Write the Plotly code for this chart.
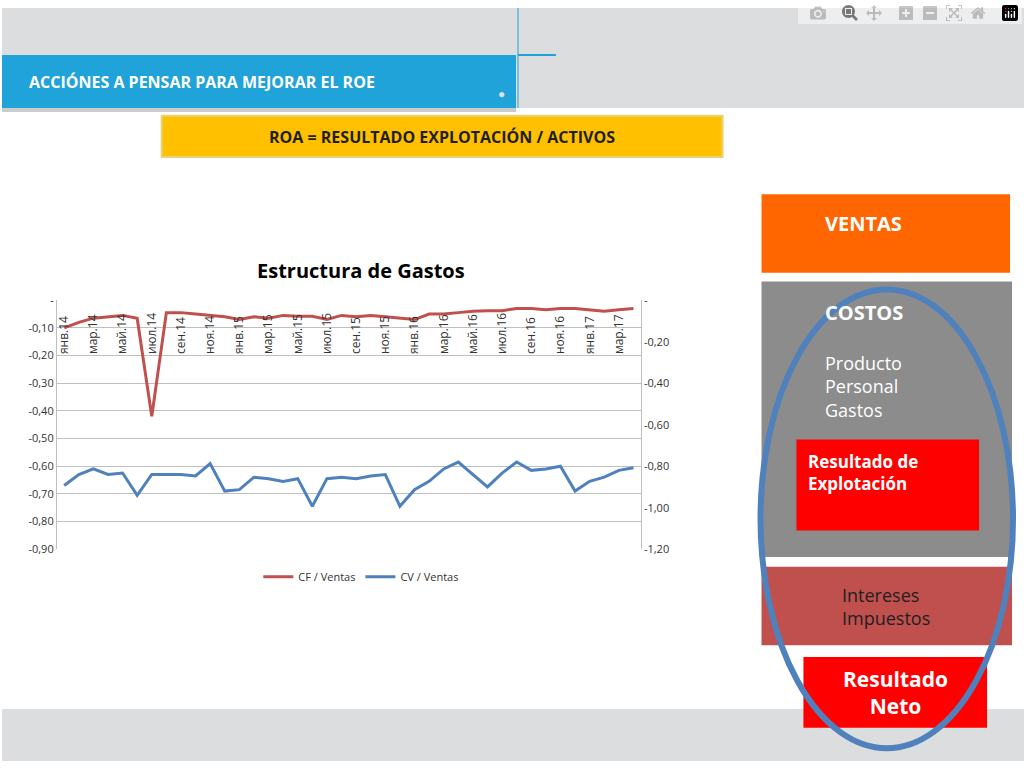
import plotly.graph_objects as go

months = ["янв","фев","мар","апр","май","июн","июл","авг","сен","окт","ноя","дек"]
categories = [f"{months[i % 12]}.{14 + i // 12}" for i in range(40)]
tick_labels = categories[::2]

cf_ventas = [-0.10,-0.08,-0.065,-0.06,-0.055,-0.065,-0.42,-0.045,-0.045,-0.05,
             -0.055,-0.06,-0.07,-0.06,-0.065,-0.055,-0.058,-0.058,-0.07,-0.055,
             -0.06,-0.055,-0.06,-0.065,-0.07,-0.05,-0.05,-0.045,-0.04,-0.038,
             -0.038,-0.03,-0.03,-0.035,-0.03,-0.03,-0.035,-0.04,-0.035,-0.03]
cv_ventas = [-0.893,-0.84,-0.813,-0.84,-0.833,-0.94,-0.84,-0.84,-0.84,-0.847,
             -0.787,-0.92,-0.913,-0.853,-0.86,-0.873,-0.86,-0.993,-0.86,-0.853,
             -0.86,-0.847,-0.84,-0.993,-0.913,-0.873,-0.813,-0.78,-0.84,-0.90,
             -0.833,-0.78,-0.82,-0.813,-0.80,-0.92,-0.873,-0.853,-0.82,-0.807]

left_ticks = [0,-0.1,-0.2,-0.3,-0.4,-0.5,-0.6,-0.7,-0.8,-0.9]
left_text = ["-","-0,10","-0,20","-0,30","-0,40","-0,50","-0,60","-0,70","-0,80","-0,90"]
right_ticks = [0,-0.2,-0.4,-0.6,-0.8,-1.0,-1.2]
right_text = ["-","-0,20","-0,40","-0,60","-0,80","-1,00","-1,20"]

W, H = 1024, 768
def px(x): return x / W
def py(y): return 1 - y / H

fig = go.Figure()
fig.add_trace(go.Scatter(x=categories, y=cf_ventas, name="CF / Ventas", mode="lines",
                         line=dict(color="#C0504D", width=3)))
fig.add_trace(go.Scatter(x=categories, y=cv_ventas, name="CV / Ventas", mode="lines",
                         line=dict(color="#4F81BD", width=3), yaxis="y2"))

shapes = []
def rect(x0, y0, x1, y1, fill, line=None, lw=0, layer="below"):
    shapes.append(dict(type="rect", xref="paper", yref="paper", x0=px(x0), x1=px(x1),
                       y0=py(y1), y1=py(y0), fillcolor=fill, layer=layer,
                       line=dict(color=line or fill, width=lw)))
rect(0, 0, 1024, 768, "#FFFFFF")
rect(0, 0, 1024, 48, "#DCDDDF")
rect(515, 48, 1024, 102, "#DCDDDF")
rect(0, 48, 515, 102, "#1FA3D9")
rect(0, 102, 515, 106, "#C9CBCD")
rect(0, 715, 1024, 768, "#DCDDDF")
rect(160, 110, 722, 152, "#FFC000", "#E8D27A", 2)
rect(761, 190, 1010, 270, "#FF6600")
rect(761, 279, 1012, 560, "#8C8C8C")
rect(796, 440, 979, 533, "#FF0000")
rect(761, 570, 1012, 650, "#C0504D")
rect(803, 662, 987, 734, "#FF0000")
shapes.append(dict(type="circle", xref="paper", yref="paper", x0=px(760), x1=px(1013),
                   y0=py(755), y1=py(287), line=dict(color="#4F81BD", width=6), layer="above"))
shapes.append(dict(type="line", xref="paper", yref="paper", x0=px(517), x1=px(517),
                   y0=py(0), y1=py(102), line=dict(color="#1FA3D9", width=1)))
shapes.append(dict(type="line", xref="paper", yref="paper", x0=px(517), x1=px(555),
                   y0=py(48), y1=py(48), line=dict(color="#1FA3D9", width=2)))

ann = []
def text(x, y, s, size, color="#000000", bold=False, xanchor="left", align="left"):
    ann.append(dict(xref="paper", yref="paper", x=px(x), y=py(y), text=f"<b>{s}</b>" if bold else s,
                    showarrow=False, xanchor=xanchor, yanchor="middle", align=align,
                    font=dict(size=size, color=color, family="Open Sans")))
text(25, 75, "ACCIÓNES A PENSAR PARA MEJORAR EL ROE", 16, "#FFFFFF", True)
ann.append(dict(xref="paper", yref="paper", x=px(500), y=py(76), text="●", showarrow=False,
                font=dict(size=12, color="#E0E0E0")))
text(441, 132, "ROA = RESULTADO EXPLOTACIÓN / ACTIVOS", 16, "#1F1F1F", True, "center")
text(360, 268, "Estructura de Gastos", 20, "#000000", True, "center")
text(823, 220, "VENTAS", 20, "#FFFFFF", True)
text(823, 311, "COSTOS", 20, "#FFFFFF", True)
text(823, 386, "Producto<br>Personal<br>Gastos", 18, "#FFFFFF")
text(806, 474, "Resultado de<br>Explotación", 17, "#FFFFFF", True)
text(840, 610, "Intereses<br>Impuestos", 18, "#1F1F1F")
text(895, 698, "Resultado<br>Neto", 21, "#FFFFFF", True, "center", "center")

fig.update_layout(
    width=W, height=H, margin=dict(l=0, r=0, t=0, b=0),
    paper_bgcolor="#FFFFFF", plot_bgcolor="rgba(0,0,0,0)",
    shapes=shapes, annotations=ann, showlegend=True,
    legend=dict(orientation="h", x=px(360), y=py(580), xanchor="center", yanchor="middle",
                font=dict(size=11, family="Open Sans", color="#333333")),
    xaxis=dict(domain=[px(55), px(640)], side="top", anchor="free", position=py(353),
               tickmode="array", tickvals=tick_labels, ticktext=tick_labels, tickangle=-90,
               showgrid=False, showline=False, ticks="",
               tickfont=dict(size=12, family="Open Sans", color="#333333"),
               range=[-0.5, 39.5]),
    yaxis=dict(domain=[py(552), py(298)], range=[-0.9, 0], tickvals=left_ticks, ticktext=left_text,
               showgrid=True, gridcolor="#BFBFBF", zeroline=False, showline=True,
               linecolor="#BFBFBF", tickfont=dict(size=11, family="Open Sans", color="#333333")),
    yaxis2=dict(overlaying="y", side="right", range=[-1.2, 0], tickvals=right_ticks,
                ticktext=right_text, showgrid=False, zeroline=False, showline=True,
                linecolor="#BFBFBF", tickfont=dict(size=11, family="Open Sans", color="#333333")),
)
fig.write_html("out.html", post_script="document.body.style.margin='0';document.body.style.overflow='hidden';")
